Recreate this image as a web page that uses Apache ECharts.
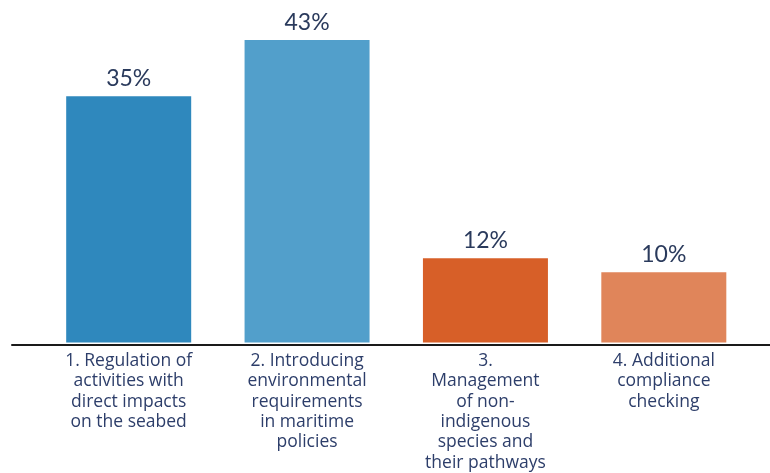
<!DOCTYPE html>
<html>
<head>
<meta charset="utf-8">
<script src="https://cdn.jsdelivr.net/npm/echarts@6/dist/echarts.min.js"></script>
<style>
  html, body { margin: 0; padding: 0; background: #ffffff; }
  #chart { width: 770px; height: 473px; }
</style>
</head>
<body>
<div id="chart"></div>
<script>
// Survey measures and the share of responses for each
const categories = [
  '1. Regulation of\nactivities with\ndirect impacts\non the seabed',
  '2. Introducing\nenvironmental\nrequirements\nin maritime\npolicies',
  '3.\nManagement\nof non-\nindigenous\nspecies and\ntheir pathways',
  '4. Additional\ncompliance\nchecking'
];
const shares = [35, 43, 12, 10];
const barColors = ['#2f88bd', '#529fcb', '#d75f28', '#e0855a'];

const chart = echarts.init(document.getElementById('chart'));

chart.setOption({
  animation: false,
  grid: [
    { left: 39.5, right: 17, top: 26, bottom: 128, containLabel: false },
    // wider strip carrying only the baseline
    { left: 12, right: 0, top: 26, bottom: 128, containLabel: false }
  ],
  xAxis: [
    {
      type: 'category',
      gridIndex: 0,
      data: categories,
      axisLine: { show: false },
      axisTick: { show: false },
      axisLabel: {
        interval: 0,
        margin: 8,
        color: '#2d3e6a',
        fontFamily: '"Open Sans", sans-serif',
        fontSize: 17.5,
        fontWeight: 500,
        lineHeight: 20.4,
        align: 'center',
        verticalAlign: 'top'
      }
    },
    {
      type: 'value',
      gridIndex: 1,
      min: 0,
      max: 1,
      axisLine: { show: true, lineStyle: { color: '#1a1a1a', width: 2 } },
      axisTick: { show: false },
      axisLabel: { show: false },
      splitLine: { show: false }
    }
  ],
  yAxis: [
    {
      type: 'value',
      gridIndex: 0,
      min: 0,
      max: 45,
      show: false
    },
    {
      type: 'value',
      gridIndex: 1,
      min: 0,
      max: 1,
      show: false
    }
  ],
  series: [
    {
      type: 'bar',
      xAxisIndex: 0,
      yAxisIndex: 0,
      barWidth: 125,
      data: shares.map((v, i) => ({ value: v, itemStyle: { color: barColors[i] } })),
      label: {
        show: true,
        position: 'top',
        distance: 6,
        formatter: '{c}%',
        color: '#2a3a5c',
        fontFamily: 'Lato, "Open Sans", sans-serif',
        fontSize: 23
      }
    }
  ]
});
</script>
</body>
</html>
